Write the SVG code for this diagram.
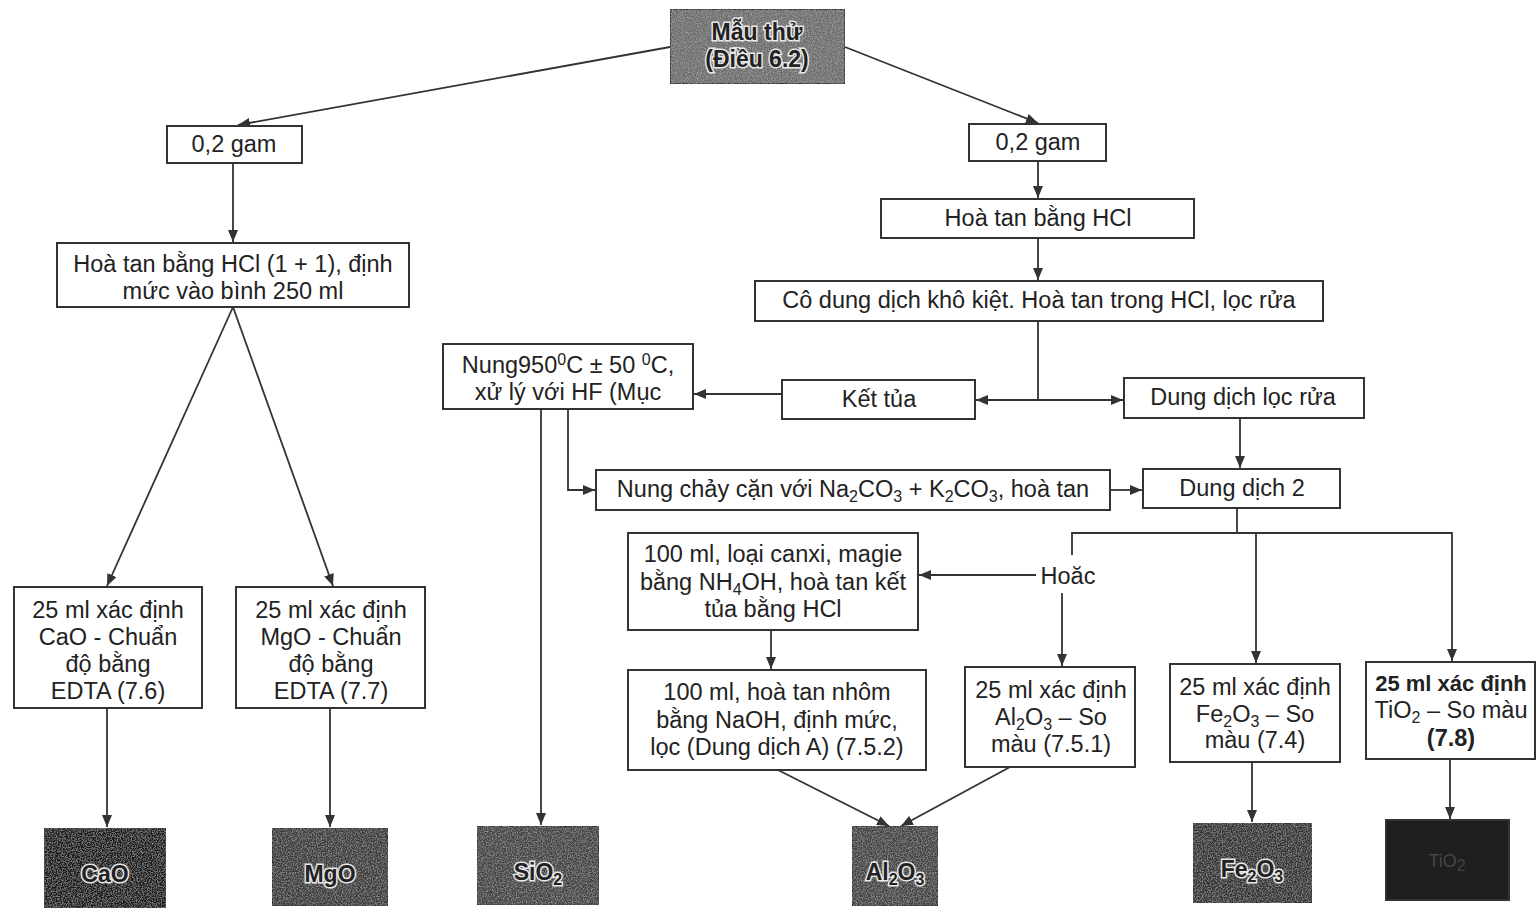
<svg xmlns="http://www.w3.org/2000/svg" width="1539" height="911" viewBox="0 0 1539 911">
<style>
.box{fill:#fff;stroke:#333;stroke-width:2}
.dark{stroke:#333;stroke-width:2}
.t{font-family:"Liberation Sans",Arial,sans-serif;font-size:23.5px;fill:#222;text-anchor:middle}
.tb{font-family:"Liberation Sans",Arial,sans-serif;font-size:23px;fill:#222;text-anchor:middle;font-weight:bold;stroke:#e8e8e8;stroke-width:3px;paint-order:stroke}
.s{font-size:16px}
.c{fill:none;stroke:#333;stroke-width:1.8}
</style>
<defs>
<marker id="ah" viewBox="0 0 12 10" refX="12" refY="5" markerWidth="12" markerHeight="10" markerUnits="userSpaceOnUse" orient="auto">
<path d="M0,0 L12,5 L0,10 z" fill="#333"/>
</marker>
<filter id="grain" x="0" y="0" width="1" height="1">
<feTurbulence type="fractalNoise" baseFrequency="0.8" numOctaves="2" seed="3" result="n"/>
<feColorMatrix in="n" type="matrix" values="0 0 0 0 1  0 0 0 0 1  0 0 0 0 1  0 0 0 0.6 -0.25" result="w"/>
<feComposite in="w" in2="SourceGraphic" operator="in" result="wc"/>
<feMerge><feMergeNode in="SourceGraphic"/><feMergeNode in="wc"/></feMerge>
</filter>
</defs>

<g id="connectors">
<line class="c" x1="670" y1="47" x2="238" y2="125" marker-end="url(#ah)"/>
<line class="c" x1="845" y1="47" x2="1038" y2="123" marker-end="url(#ah)"/>
<line class="c" x1="233" y1="163" x2="233" y2="242" marker-end="url(#ah)"/>
<line class="c" x1="233" y1="307" x2="107" y2="586" marker-end="url(#ah)"/>
<line class="c" x1="233" y1="307" x2="333" y2="586" marker-end="url(#ah)"/>
<line class="c" x1="107" y1="708" x2="107" y2="827" marker-end="url(#ah)"/>
<line class="c" x1="330" y1="708" x2="330" y2="827" marker-end="url(#ah)"/>
<line class="c" x1="1038" y1="161" x2="1038" y2="198" marker-end="url(#ah)"/>
<line class="c" x1="1038" y1="238" x2="1038" y2="280" marker-end="url(#ah)"/>
<line class="c" x1="1038" y1="321" x2="1038" y2="400"/>
<line class="c" x1="1038" y1="400" x2="976" y2="400" marker-end="url(#ah)"/>
<line class="c" x1="1038" y1="400" x2="1123" y2="400" marker-end="url(#ah)"/>
<line class="c" x1="782" y1="394" x2="694" y2="394" marker-end="url(#ah)"/>
<line class="c" x1="1240" y1="418" x2="1240" y2="468" marker-end="url(#ah)"/>
<line class="c" x1="1110" y1="490" x2="1142" y2="490" marker-end="url(#ah)"/>
<line class="c" x1="541" y1="409" x2="541" y2="825" marker-end="url(#ah)"/>
<polyline class="c" points="568,409 568,490 595,490" marker-end="url(#ah)"/>
<line class="c" x1="1237" y1="508" x2="1237" y2="533"/>
<polyline class="c" points="1072,555 1072,533 1452,533 1452,661" marker-end="url(#ah)"/>
<line class="c" x1="1256" y1="533" x2="1256" y2="663" marker-end="url(#ah)"/>
<line class="c" x1="1036" y1="575" x2="919" y2="575" marker-end="url(#ah)"/>
<line class="c" x1="1062" y1="593" x2="1062" y2="666" marker-end="url(#ah)"/>
<line class="c" x1="771" y1="630" x2="771" y2="669" marker-end="url(#ah)"/>
<line class="c" x1="778" y1="770" x2="889" y2="826" marker-end="url(#ah)"/>
<line class="c" x1="1010" y1="767" x2="901" y2="826" marker-end="url(#ah)"/>
<line class="c" x1="1252" y1="762" x2="1252" y2="822" marker-end="url(#ah)"/>
<line class="c" x1="1450" y1="759" x2="1450" y2="819" marker-end="url(#ah)"/>
</g>

<g id="n-mauthu">
<rect class="dark" x="670" y="9" width="175" height="75" fill="#6e6e6e" filter="url(#grain)"/>
<text class="tb" x="757" y="40">Mẫu thử</text>
<text class="tb" x="757" y="67">(Điều 6.2)</text>
</g>

<g id="n-left-02">
<rect class="box" x="167" y="126" width="135" height="37"/>
<text class="t" x="234" y="152">0,2 gam</text>
</g>
<g id="n-left-hoatan">
<rect class="box" x="57" y="243" width="352" height="64"/>
<text class="t" x="233" y="272">Hoà tan bằng HCl (1 + 1), định</text>
<text class="t" x="233" y="299">mức vào bình 250 ml</text>
</g>
<g id="n-cao-det">
<rect class="box" x="14" y="587" width="188" height="121"/>
<text class="t" x="108" y="618">25 ml xác định</text>
<text class="t" x="108" y="645">CaO - Chuẩn</text>
<text class="t" x="108" y="672">độ bằng</text>
<text class="t" x="108" y="699">EDTA (7.6)</text>
</g>
<g id="n-mgo-det">
<rect class="box" x="236" y="587" width="189" height="121"/>
<text class="t" x="331" y="618">25 ml xác định</text>
<text class="t" x="331" y="645">MgO - Chuẩn</text>
<text class="t" x="331" y="672">độ bằng</text>
<text class="t" x="331" y="699">EDTA (7.7)</text>
</g>

<g id="n-right-02">
<rect class="box" x="969" y="124" width="137" height="37"/>
<text class="t" x="1038" y="150">0,2 gam</text>
</g>
<g id="n-right-hoatan">
<rect class="box" x="881" y="199" width="313" height="39"/>
<text class="t" x="1038" y="226">Hoà tan bằng HCl</text>
</g>
<g id="n-codung">
<rect class="box" x="755" y="281" width="568" height="40"/>
<text class="t" x="1039" y="308">Cô dung dịch khô kiệt. Hoà tan trong HCl, lọc rửa</text>
</g>
<g id="n-nung950">
<rect class="box" x="443" y="344" width="250" height="65"/>
<text class="t" x="568" y="373">Nung950<tspan class="s" dy="-8">0</tspan><tspan dy="8">C ± 50 </tspan><tspan class="s" dy="-8">0</tspan><tspan dy="8">C,</tspan></text>
<text class="t" x="568" y="400">xử lý với HF (Mục</text>
</g>
<g id="n-kettua">
<rect class="box" x="782" y="380" width="193" height="39"/>
<text class="t" x="879" y="407">Kết tủa</text>
</g>
<g id="n-ddlocrua">
<rect class="box" x="1124" y="378" width="240" height="40"/>
<text class="t" x="1243" y="405">Dung dịch lọc rửa</text>
</g>
<g id="n-nungchay">
<rect class="box" x="596" y="470" width="514" height="40"/>
<text class="t" x="853" y="497">Nung chảy cặn với Na<tspan class="s" dy="5">2</tspan><tspan dy="-5">CO</tspan><tspan class="s" dy="5">3</tspan><tspan dy="-5"> + K</tspan><tspan class="s" dy="5">2</tspan><tspan dy="-5">CO</tspan><tspan class="s" dy="5">3</tspan><tspan dy="-5">, hoà tan</tspan></text>
</g>
<g id="n-dd2">
<rect class="box" x="1143" y="469" width="197" height="39"/>
<text class="t" x="1242" y="496">Dung dịch 2</text>
</g>
<g id="n-hoac">
<text class="t" x="1068" y="584">Hoăc</text>
</g>
<g id="n-loaicanxi">
<rect class="box" x="628" y="533" width="290" height="97"/>
<text class="t" x="773" y="562">100 ml, loại canxi, magie</text>
<text class="t" x="773" y="590">bằng NH<tspan class="s" dy="5">4</tspan><tspan dy="-5">OH, hoà tan kết</tspan></text>
<text class="t" x="773" y="617">tủa  bằng HCl</text>
</g>
<g id="n-hoatannhom">
<rect class="box" x="628" y="670" width="298" height="100"/>
<text class="t" x="777" y="700">100 ml, hoà tan nhôm</text>
<text class="t" x="777" y="728">bằng NaOH, định mức,</text>
<text class="t" x="777" y="755">lọc (Dung dịch A) (7.5.2)</text>
</g>
<g id="n-al-det">
<rect class="box" x="965" y="667" width="170" height="100"/>
<text class="t" x="1051" y="698">25 ml xác định</text>
<text class="t" x="1051" y="725">Al<tspan class="s" dy="5">2</tspan><tspan dy="-5">O</tspan><tspan class="s" dy="5">3</tspan><tspan dy="-5"> – So</tspan></text>
<text class="t" x="1051" y="752">màu (7.5.1)</text>
</g>
<g id="n-fe-det">
<rect class="box" x="1170" y="664" width="170" height="98"/>
<text class="t" x="1255" y="695">25 ml xác định</text>
<text class="t" x="1255" y="722">Fe<tspan class="s" dy="5">2</tspan><tspan dy="-5">O</tspan><tspan class="s" dy="5">3</tspan><tspan dy="-5"> – So</tspan></text>
<text class="t" x="1255" y="748">màu (7.4)</text>
</g>
<g id="n-ti-det">
<rect class="box" x="1366" y="662" width="169" height="97"/>
<text class="t" x="1451" y="691" font-weight="bold" style="font-size:22px">25 ml xác định</text>
<text class="t" x="1451" y="718">TiO<tspan class="s" dy="5">2</tspan><tspan dy="-5"> – So màu</tspan></text>
<text class="t" x="1451" y="746" font-weight="bold">(7.8)</text>
</g>

<g id="n-cao">
<rect class="dark" x="44" y="828" width="122" height="80" fill="#1e1e1e" filter="url(#grain)"/>
<text class="tb" x="105" y="882">CaO</text>
</g>
<g id="n-mgo">
<rect class="dark" x="272" y="828" width="116" height="78" fill="#3c3c3c" filter="url(#grain)"/>
<text class="tb" x="330" y="882">MgO</text>
</g>
<g id="n-sio2">
<rect class="dark" x="477" y="826" width="122" height="79" fill="#444" filter="url(#grain)"/>
<text class="tb" x="538" y="880">SiO<tspan class="s" dy="5">2</tspan></text>
</g>
<g id="n-al2o3">
<rect class="dark" x="852" y="826" width="86" height="80" fill="#444" filter="url(#grain)"/>
<text class="tb" x="895" y="880">Al<tspan class="s" dy="5">2</tspan><tspan dy="-5">O</tspan><tspan class="s" dy="5">3</tspan></text>
</g>
<g id="n-fe2o3">
<rect class="dark" x="1193" y="823" width="119" height="80" fill="#363636" filter="url(#grain)"/>
<text class="tb" x="1252" y="877">Fe<tspan class="s" dy="5">2</tspan><tspan dy="-5">O</tspan><tspan class="s" dy="5">3</tspan></text>
</g>
<g id="n-tio2">
<rect class="dark" x="1386" y="820" width="123" height="80" fill="#1f1f1f"/>
<text class="t" x="1447" y="867" style="fill:#444;font-size:18px">TiO<tspan class="s" dy="4">2</tspan></text>
</g>
</svg>
